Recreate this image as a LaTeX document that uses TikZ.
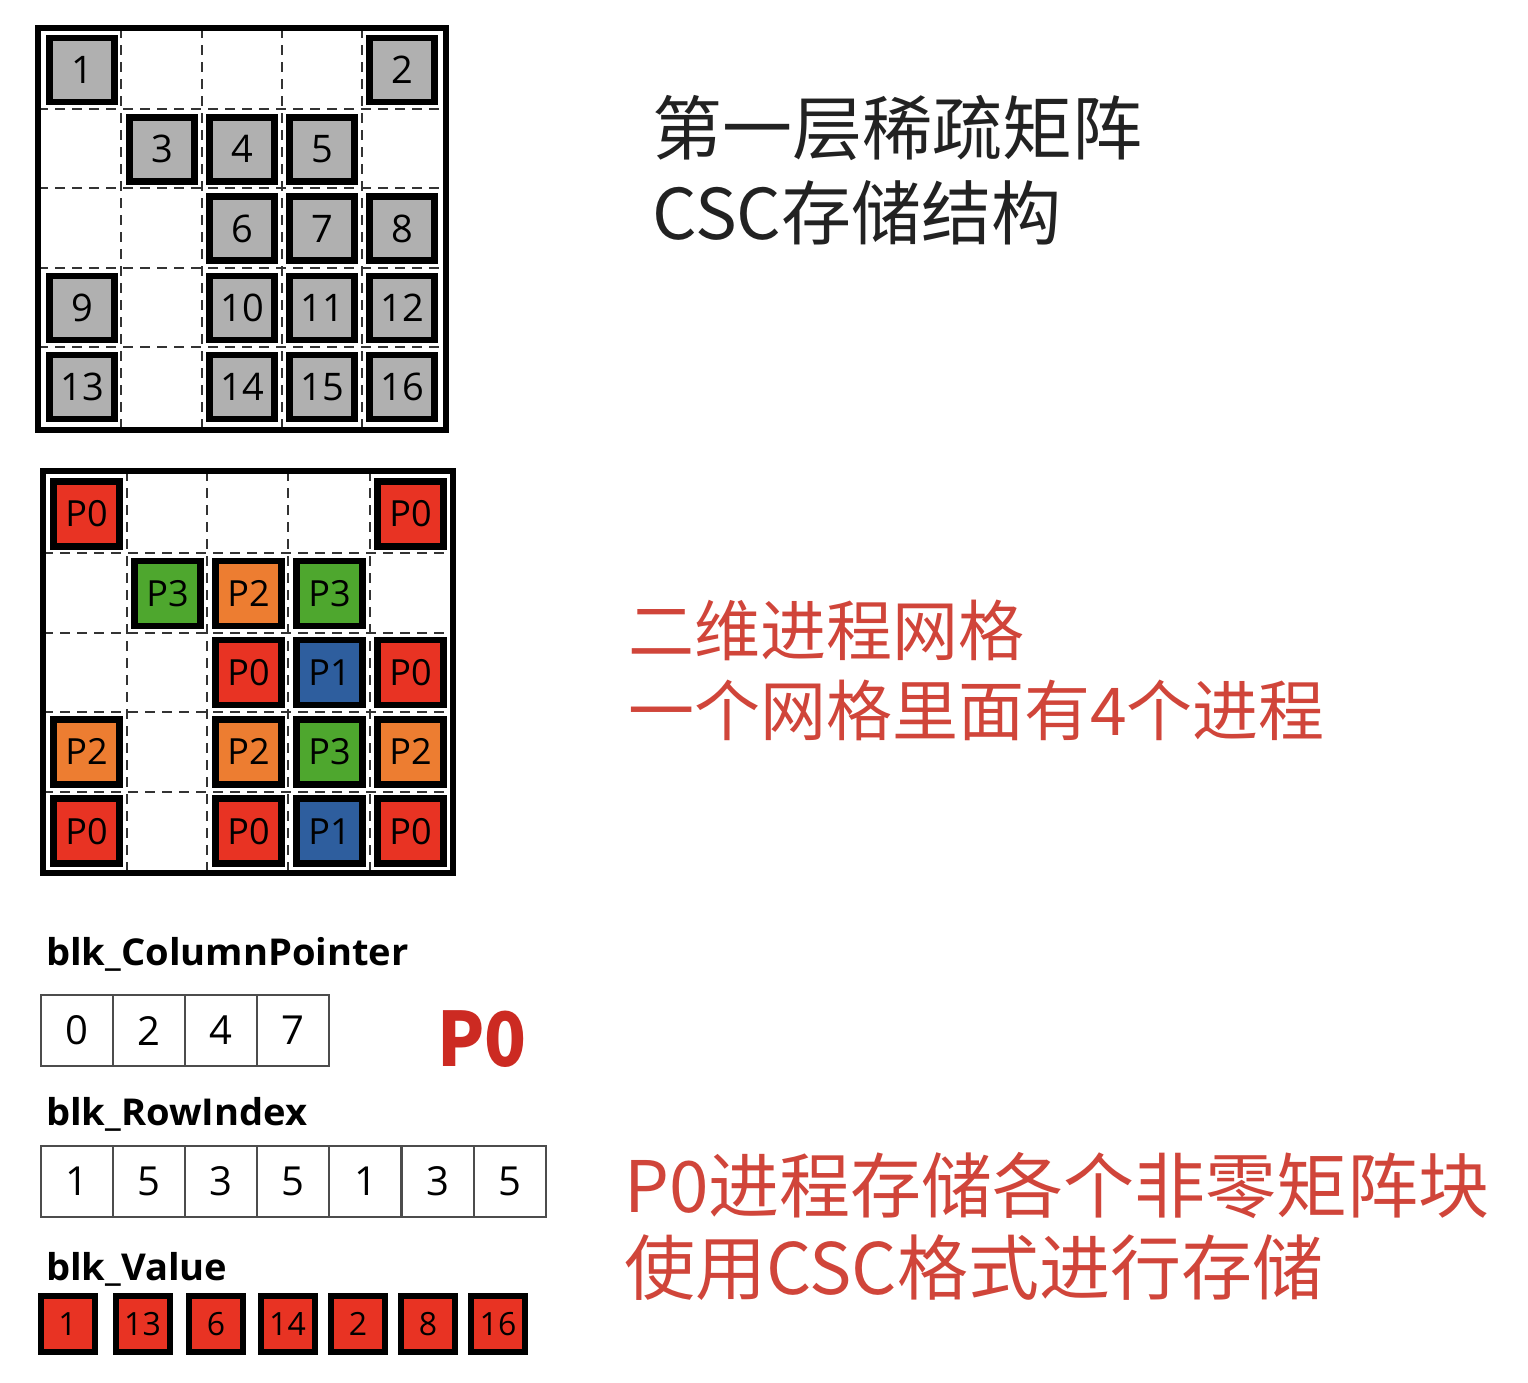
\documentclass[tikz,border=0pt]{standalone}
\usepackage{fontspec}
\setmainfont{Open Sans}
\newfontfamily\cjk{Noto Sans CJK SC}
\usepackage{tikz}
\usetikzlibrary{positioning}

\definecolor{cellgray}{HTML}{B0B0B0}
\definecolor{proc0}{HTML}{E83323}
\definecolor{proc1}{HTML}{2E5E9E}
\definecolor{proc2}{HTML}{ED7D31}
\definecolor{proc3}{HTML}{4EA72E}
\definecolor{notered}{HTML}{D0453A}
\definecolor{bigred}{HTML}{CC2A22}
\definecolor{textblack}{HTML}{222222}

\tikzset{
  gridline/.style={line width=2.5, draw=black!80, dash pattern=on 10pt off 7pt},
  gridframe/.style={line width=6, draw=black},
  blockbox/.style={draw=black, line width=6.5, minimum width=65, minimum height=64,
    inner sep=0, font=\fontsize{38}{40}\selectfont},
  procbox/.style={blockbox, minimum width=66, minimum height=65, font=\fontsize{36}{38}\selectfont},
  arrcell/.style={draw=black!70, line width=2, minimum width=72, minimum height=71,
    inner sep=0, font=\fontsize{40}{42}\selectfont},
  valbox/.style={draw=black, line width=6, fill=proc0, minimum width=54, minimum height=56,
    inner sep=0, font=\fontsize{32}{34}\selectfont},
  arrlabel/.style={anchor=base west, inner sep=0, font=\fontsize{37}{39}\selectfont\bfseries},
  note/.style={anchor=west, inner sep=0, font=\cjk\fontsize{66}{80}\selectfont, text=notered}
}

\begin{document}
\begin{tikzpicture}[x=1pt, y=-1pt]
\useasboundingbox (0,0) rectangle (1528,1382);

% -------- Sparse matrix blocks --------
\foreach \x in {121,202,282,362}
  \draw[gridline] (\x,28) -- (\x,430);
\foreach \y in {109,188,268,347}
  \draw[gridline] (38,\y) -- (446,\y);
\draw[gridframe] (38,28) rectangle (446,430);
\foreach \c/\r/\t in {1/1/1, 5/1/2, 2/2/3, 3/2/4, 4/2/5, 3/3/6, 4/3/7, 5/3/8,
    1/4/9, 3/4/10, 4/4/11, 5/4/12, 1/5/13, 3/5/14, 4/5/15, 5/5/16}
  \node[blockbox, fill=cellgray] (g\t) at ({82+80*(\c-1)},{70+79.3*(\r-1)}) {\t};

% -------- Process grid --------
\foreach \x in {127,207,288,370}
  \draw[gridline] (\x,471) -- (\x,873);
\foreach \y in {553,633,712,792}
  \draw[gridline] (43,\y) -- (453,\y);
\draw[gridframe] (43,471) rectangle (453,873);
\foreach \c/\r/\p in {1/1/0, 5/1/0, 2/2/3, 3/2/2, 4/2/3, 3/3/0, 4/3/1, 5/3/0,
    1/4/2, 3/4/2, 4/4/3, 5/4/2, 1/5/0, 3/5/0, 4/5/1, 5/5/0}
  \node[procbox, fill=proc\p] (p\c\r) at ({86.5+81*(\c-1)},{514+79.3*(\r-1)}) {P\p};

% -------- CSC arrays of P0 --------
\node[arrlabel] (lcp) at (46,965) {\scalebox{1.03}[1]{blk\_ColumnPointer}};
\foreach \v [count=\i] in {0,2,4,7}
  \node[arrcell] (cp\i) at ({41+72*(\i-0.5)},1030.5) {\v};

\node[arrlabel] (lri) at (46,1125) {\scalebox{1.03}[1]{blk\_RowIndex}};
\foreach \v [count=\i] in {1,5,3,5,1,3,5}
  \node[arrcell] (ri\i) at ({41+72.1*(\i-0.5)},1181) {\v};

\node[arrlabel] (lval) at (46,1280) {\scalebox{1.03}[1]{blk\_Value}};
\foreach \v/\x [count=\i] in {1/67.5, 13/142.5, 6/216, 14/287.5, 2/358, 8/428, 16/498}
  \node[valbox] (val\i) at (\x,1324) {\v};

\node[anchor=base west, inner sep=0, text=bigred,
  font=\cjk\bfseries\fontsize{75}{75}\selectfont] (pzero) at (437,1066) {\scalebox{0.92}[1]{P0}};

% -------- Notes --------
\node[anchor=west, inner sep=0, text=textblack, font=\cjk\fontsize{70}{85}\selectfont]
  (title1) at (652,128) {第一层稀疏矩阵};
\node[anchor=west, inner sep=0, text=textblack, font=\cjk\fontsize{70}{85}\selectfont]
  (title2) at (652,213) {CSC存储结构};

\node[note] (grid1) at (628,630) {二维进程网格};
\node[note] (grid2) at (628,710) {一个网格里面有4个进程};

\node[note, font=\cjk\fontsize{71}{85}\selectfont] (store1) at (624,1185) {P0进程存储各个非零矩阵块};
\node[note, font=\cjk\fontsize{71}{85}\selectfont] (store2) at (624,1268) {使用CSC格式进行存储};

\end{tikzpicture}
\end{document}
